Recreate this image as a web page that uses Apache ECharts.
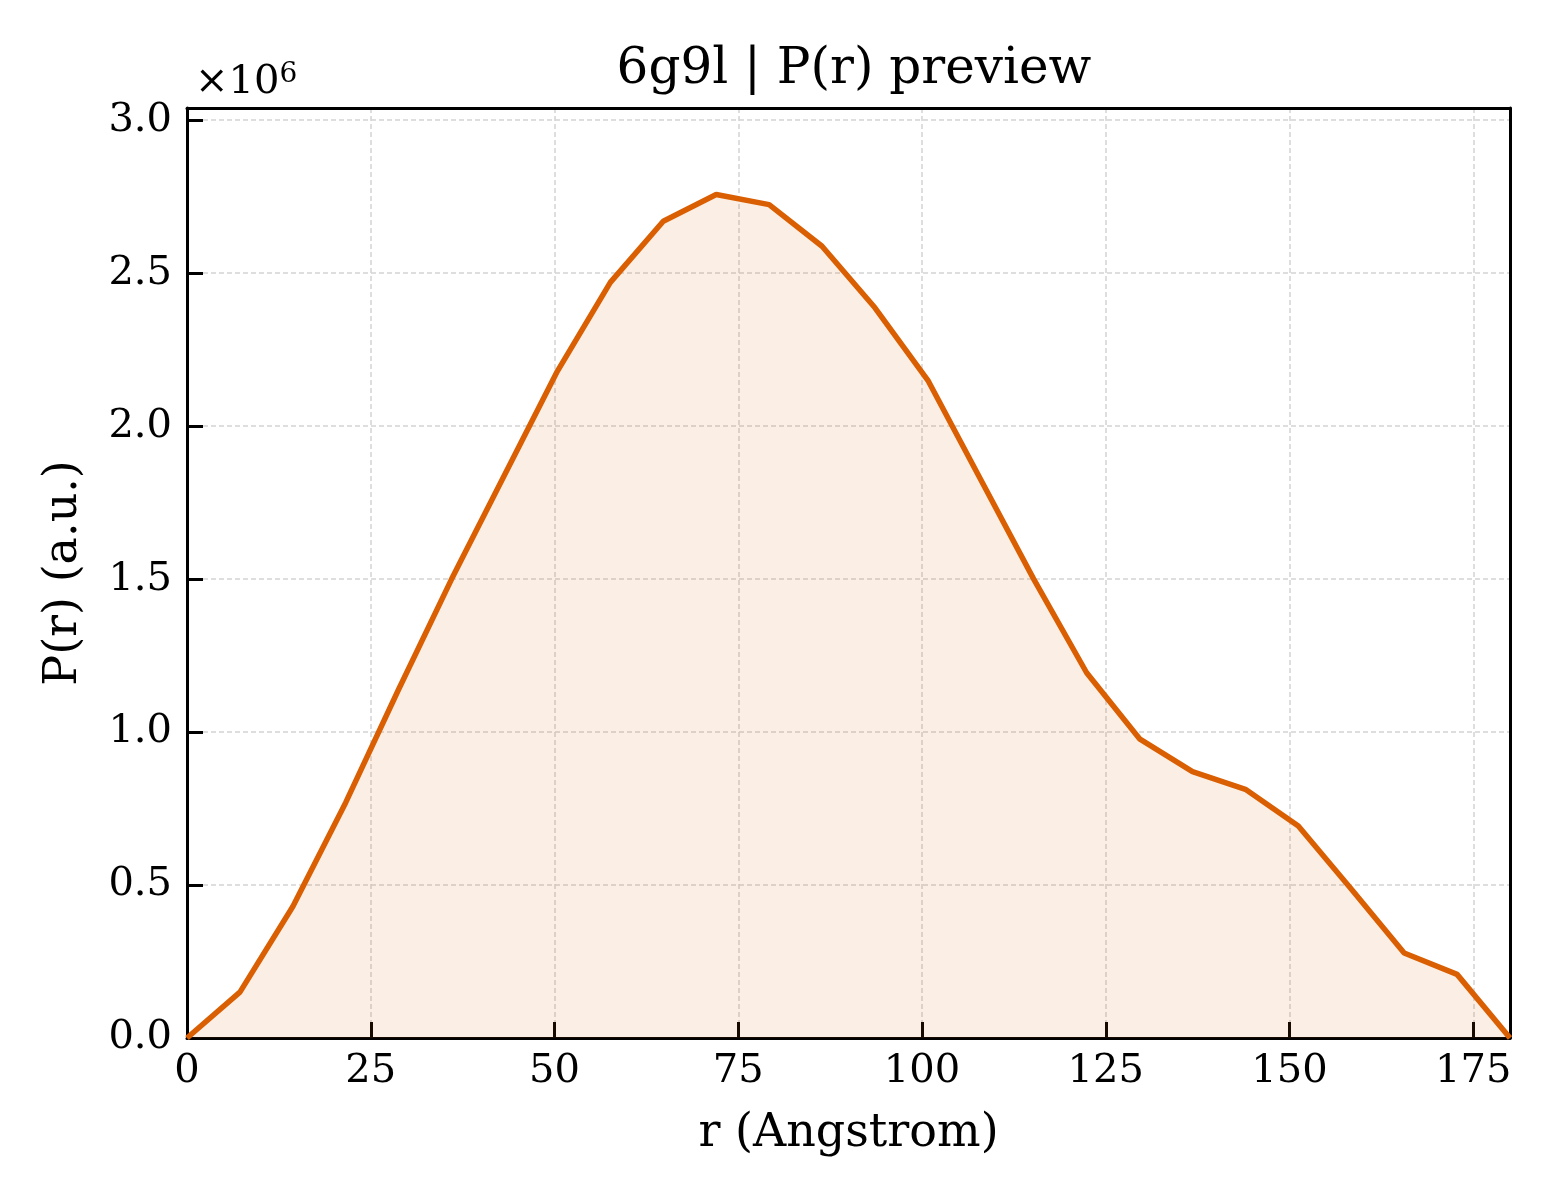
<!DOCTYPE html>
<html>
<head>
<meta charset="utf-8">
<title>6g9l P(r) preview</title>
<script src="https://cdn.jsdelivr.net/npm/echarts@6/dist/echarts.min.js"></script>
<style>
    html,body{margin:0;padding:0;background:#fff;}
    #chart{width:1560px;height:1200px;}
</style>
</head>
<body>
<div id="chart"></div>
<script>
// r in Angstrom
var r_values=[0, 7.2, 14.4, 21.6, 28.8, 36, 43.2, 50.4, 57.6, 64.8, 72, 79.2, 86.4,
    93.6, 100.8, 108, 115.2, 122.4, 129.6, 136.8, 144, 151.2, 158.4, 165.6, 172.8, 180];
// P(r) in units of 1e6
var pr_values=[0, 0.15, 0.43, 0.77, 1.14, 1.50, 1.84, 2.18, 2.47, 2.67, 2.757, 2.724, 2.588,
    2.387, 2.15, 1.825, 1.50, 1.194, 0.978, 0.871, 0.813, 0.693, 0.487, 0.278, 0.208, 0];
var x_ticks=[0, 25, 50, 75, 100, 125, 150, 175];
var y_ticks=[0, 0.5, 1.0, 1.5, 2.0, 2.5, 3.0];

var font='"DejaVu Serif", serif';
var line_color='#d95f02';

var chart=echarts.init(document.getElementById('chart'));

var points=[];
for(var i=0;i<r_values.length;i++){
    points.push([r_values[i],pr_values[i]]);
}

// 边框轴（上、右）
function frame_axis(opts) {
    return Object.assign({
        type:'value',
        axisLine:{show:true,onZero:false,lineStyle:{color:'#000',width:3}},
        axisTick:{show:false},
        axisLabel:{show:false},
        splitLine:{show:false}
    },opts);
}

var option={
    backgroundColor:'#fff',
    animation:false,
    title:[{
        text:'6g9l | P(r) preview',
        left:849,
        top:40,
        textAlign:'center',
        textStyle:{fontFamily:font,fontWeight:'normal',fontSize:50,color:'#000'}
    },{
        // offset text of the y axis
        text:'{a|×10}{b|6}',
        left:190,
        top:56,
        textStyle:{
            fontWeight:'normal',
            rich:{
                a:{fontFamily:font,fontWeight:'normal',fontSize:40,color:'#000'},
                b:{fontFamily:font,fontWeight:'normal',fontSize:28,color:'#000',verticalAlign:'top',padding:[0,0,16,0]}
            }
        }
    }],
    grid:{
        left:187,
        right:50,
        top:108,
        bottom:162
    },
    xAxis:[{
        type:'value',
        min:0,
        max:180,
        interval:25,
        name:'r (Angstrom)',
        nameLocation:'middle',
        nameGap:73,
        nameTextStyle:{fontFamily:font,fontSize:46,color:'#000'},
        axisLine:{show:true,onZero:false,lineStyle:{color:'#000',width:3}},
        axisTick:{show:true,inside:true,length:16,lineStyle:{color:'#000',width:3}},
        axisLabel:{
            fontFamily:font,fontSize:40,color:'#000',margin:14,
            showMaxLabel:false,
            formatter:function (v) {
                return x_ticks.indexOf(v)>=0?String(v):'';
            }
        },
        splitLine:{show:true,lineStyle:{color:'#d3d3d3',width:1.5,type:[5,3]}}
    },frame_axis({min:0,max:180,position:'top'})],
    yAxis:[{
        type:'value',
        min:0,
        max:3.04,
        interval:0.5,
        name:'P(r) (a.u.)',
        nameLocation:'middle',
        nameGap:100,
        nameRotate:90,
        nameTextStyle:{fontFamily:font,fontSize:46,color:'#000'},
        axisLine:{show:true,onZero:false,lineStyle:{color:'#000',width:3}},
        axisTick:{show:true,inside:true,length:16,lineStyle:{color:'#000',width:3}},
        axisLabel:{
            fontFamily:font,fontSize:40,color:'#000',margin:15,
            showMaxLabel:false,
            formatter:function (v) {
                return y_ticks.indexOf(Math.round(v*10)/10)>=0?v.toFixed(1):'';
            }
        },
        splitLine:{show:true,lineStyle:{color:'#d3d3d3',width:1.5,type:[5,3]}}
    },frame_axis({min:0,max:3.04,position:'right'})],
    series:[{
        type:'line',
        data:points,
        showSymbol:false,
        smooth:false,
        lineStyle:{color:line_color,width:5.5},
        areaStyle:{color:'rgba(217,95,2,0.15)'},
        z:3
    }]
};

chart.setOption(option);
</script>
</body>
</html>
